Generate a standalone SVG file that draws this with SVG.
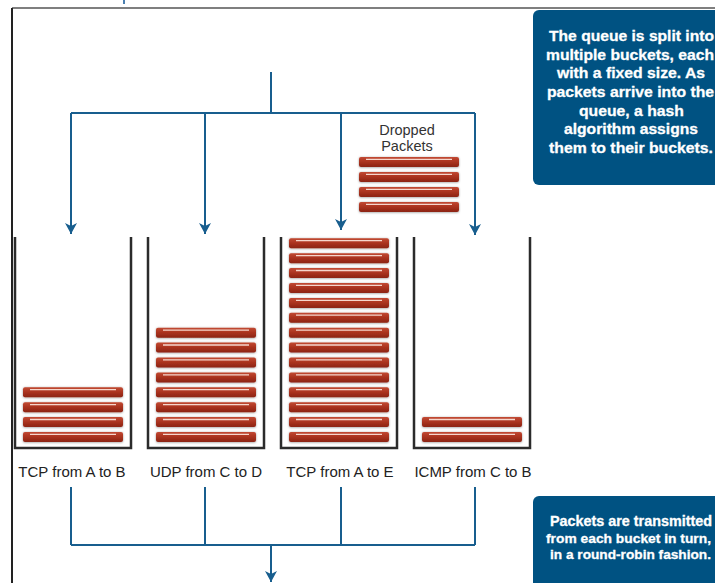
<svg xmlns="http://www.w3.org/2000/svg" width="715" height="583" viewBox="0 0 715 583">
<style>
.wall{fill:none;stroke:#2b2b2b;stroke-width:2.5;stroke-linejoin:miter}
.conn{fill:none;stroke:#185e8e;stroke-width:2}
.lbl{font-family:"Liberation Sans",Arial,sans-serif;font-size:15px;fill:#222;text-anchor:middle}
.dl{font-family:"Liberation Sans",Arial,sans-serif;font-size:14.5px;fill:#333;text-anchor:middle}
.box{fill:#005282}
.bt{font-family:"Liberation Sans Narrow","Liberation Sans",Arial,sans-serif;font-weight:bold;fill:#fff;stroke:#fff;stroke-width:0.3}
</style>
<defs>
<linearGradient id="pg" x1="0" y1="0" x2="0" y2="1">
<stop offset="0" stop-color="#c24a33"/>
<stop offset="0.5" stop-color="#a9321e"/>
<stop offset="1" stop-color="#8c2414"/>
</linearGradient>
<filter id="sh" x="-10%" y="-50%" width="120%" height="200%">
<feDropShadow dx="0" dy="0.5" stdDeviation="1.1" flood-color="#000" flood-opacity="0.4"/>
</filter>
<g id="pkt">
<rect x="0" y="0" width="100" height="10" rx="2" fill="url(#pg)" filter="url(#sh)"/>
<line x1="7" y1="2.4" x2="93" y2="2.4" stroke="#f6d6cc" stroke-width="1.3"/>
</g>
<marker id="ah" markerUnits="userSpaceOnUse" markerWidth="12" markerHeight="12" refX="11" refY="6" orient="auto">
<path d="M0,0 L11,6 L0,12 L3,6 Z" fill="#185e8e"/>
</marker>
</defs>

<g id="frame">
<line x1="12" y1="8" x2="715" y2="8" stroke="#555" stroke-width="1.6"/>
<line x1="12" y1="8" x2="12" y2="583" stroke="#222" stroke-width="2"/>
<line x1="124" y1="0" x2="124" y2="4" stroke="#4a7fb0" stroke-width="2"/>
</g>

<g id="connectors">
<path class="conn" d="M271,72 V113"/>
<path class="conn" d="M71,113 H475"/>
<path class="conn" d="M71,113 V234" marker-end="url(#ah)"/>
<path class="conn" d="M205,113 V234" marker-end="url(#ah)"/>
<path class="conn" d="M341,113 V230" marker-end="url(#ah)"/>
<path class="conn" d="M475,113 V235" marker-end="url(#ah)"/>
<path class="conn" d="M71,487 V545 M205,487 V545 M341,487 V545 M475,487 V545"/>
<path class="conn" d="M71,545 H475"/>
<path class="conn" d="M271,545 V582" marker-end="url(#ah)"/>
</g>

<g id="dropped">
<text class="dl" x="407" y="135">Dropped</text>
<text class="dl" x="407" y="150.5">Packets</text>
<use href="#pkt" x="359" y="157"/>
<use href="#pkt" x="359" y="172"/>
<use href="#pkt" x="359" y="187"/>
<use href="#pkt" x="359" y="202"/>
</g>

<g id="bucket1">
<path class="wall" d="M15,237 V448 H131 V237"/>
<use href="#pkt" x="23" y="387.3"/>
<use href="#pkt" x="23" y="402.2"/>
<use href="#pkt" x="23" y="417.1"/>
<use href="#pkt" x="23" y="432"/>
<text class="lbl" x="72" y="477">TCP from A to B</text>
</g>

<g id="bucket2">
<path class="wall" d="M148,237 V448 H264 V237"/>
<use href="#pkt" x="156" y="327.7"/>
<use href="#pkt" x="156" y="342.6"/>
<use href="#pkt" x="156" y="357.5"/>
<use href="#pkt" x="156" y="372.4"/>
<use href="#pkt" x="156" y="387.3"/>
<use href="#pkt" x="156" y="402.2"/>
<use href="#pkt" x="156" y="417.1"/>
<use href="#pkt" x="156" y="432"/>
<text class="lbl" x="206" y="477">UDP from C to D</text>
</g>

<g id="bucket3">
<path class="wall" d="M281,237 V448 H397 V237"/>
<use href="#pkt" x="289" y="238.3"/>
<use href="#pkt" x="289" y="253.2"/>
<use href="#pkt" x="289" y="268.1"/>
<use href="#pkt" x="289" y="283"/>
<use href="#pkt" x="289" y="297.9"/>
<use href="#pkt" x="289" y="312.8"/>
<use href="#pkt" x="289" y="327.7"/>
<use href="#pkt" x="289" y="342.6"/>
<use href="#pkt" x="289" y="357.5"/>
<use href="#pkt" x="289" y="372.4"/>
<use href="#pkt" x="289" y="387.3"/>
<use href="#pkt" x="289" y="402.2"/>
<use href="#pkt" x="289" y="417.1"/>
<use href="#pkt" x="289" y="432"/>
<text class="lbl" x="340" y="477">TCP from A to E</text>
</g>

<g id="bucket4">
<path class="wall" d="M414,237 V448 H530 V237"/>
<use href="#pkt" x="422" y="417.1"/>
<use href="#pkt" x="422" y="432"/>
<text class="lbl" x="473" y="477">ICMP from C to B</text>
</g>

<g id="note-top">
<rect class="box" x="533" y="10" width="200" height="175" rx="6"/>
<text class="bt" font-size="15.5"><tspan x="549" y="41" textLength="165" lengthAdjust="spacingAndGlyphs">The queue is split into</tspan></text>
<text class="bt" font-size="15.5"><tspan x="546" y="59.7" textLength="168" lengthAdjust="spacingAndGlyphs">multiple buckets, each</tspan></text>
<text class="bt" font-size="15.5"><tspan x="557" y="78.3" textLength="148" lengthAdjust="spacingAndGlyphs">with a fixed size. As</tspan></text>
<text class="bt" font-size="15.5"><tspan x="547" y="97" textLength="167" lengthAdjust="spacingAndGlyphs">packets arrive into the</tspan></text>
<text class="bt" font-size="15.5"><tspan x="579" y="115.7" textLength="105" lengthAdjust="spacingAndGlyphs">queue, a hash</tspan></text>
<text class="bt" font-size="15.5"><tspan x="564" y="134.3" textLength="134" lengthAdjust="spacingAndGlyphs">algorithm assigns</tspan></text>
<text class="bt" font-size="15.5"><tspan x="549" y="153" textLength="164" lengthAdjust="spacingAndGlyphs">them to their buckets.</tspan></text>
</g>

<g id="note-bottom">
<rect class="box" x="533" y="496" width="200" height="100" rx="6"/>
<text class="bt" font-size="13.8"><tspan x="550" y="526" textLength="162" lengthAdjust="spacingAndGlyphs">Packets are transmitted</tspan></text>
<text class="bt" font-size="13.5"><tspan x="546" y="542.7" textLength="165" lengthAdjust="spacingAndGlyphs">from each bucket in turn,</tspan></text>
<text class="bt" font-size="13.5"><tspan x="550" y="559" textLength="161" lengthAdjust="spacingAndGlyphs">in a round-robin fashion.</tspan></text>
</g>
</svg>
